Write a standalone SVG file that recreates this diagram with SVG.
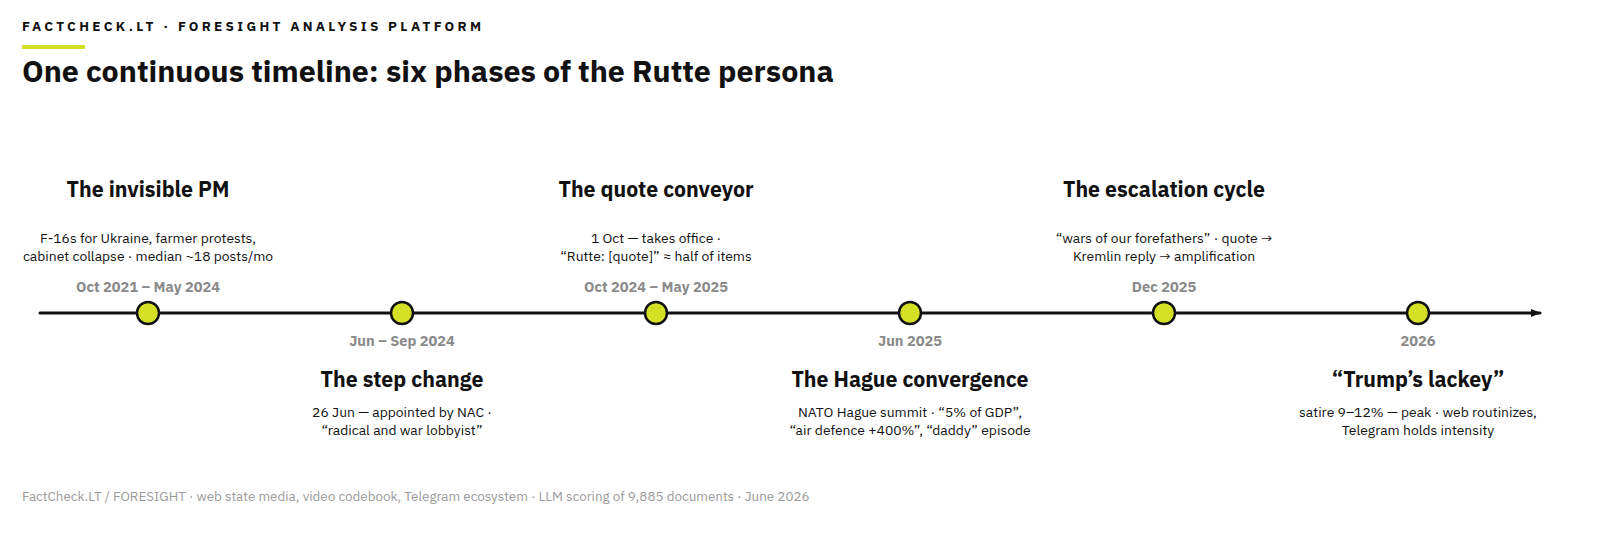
<svg xmlns="http://www.w3.org/2000/svg" width="1600" height="537" viewBox="0 0 1600 537">
<style>
text{font-family:"IBM Plex Sans",Roboto,"Liberation Sans",sans-serif;text-anchor:middle}
.t{font-size:21.3px;font-weight:700;fill:#111}
.b{font-size:13.9px;fill:#111}
.d{font-size:14.6px;font-weight:700;fill:#8a8a8a}
.n{fill:#d4e026;stroke:#111;stroke-width:2.5}
</style>
<defs><marker id="ah" markerWidth="10" markerHeight="8" refX="9" refY="4" orient="auto" markerUnits="userSpaceOnUse"><path d="M0,0 L10,4 L0,8 Z" fill="#111"/></marker></defs>
<rect width="1600" height="537" fill="#fff"/>
<text x="22" y="31" style="text-anchor:start;font-size:13.5px;font-weight:700;letter-spacing:3.3px;fill:#111">FACTCHECK.LT · FORESIGHT ANALYSIS PLATFORM</text>
<rect x="22" y="45" width="63" height="4" fill="#d4e026"/>
<text x="22" y="82" style="text-anchor:start;font-size:30.4px;font-weight:700;fill:#111">One continuous timeline: six phases of the Rutte persona</text>
<g id="connectors"><line x1="40" y1="313" x2="1540" y2="313" stroke="#111" stroke-width="3" stroke-linecap="round" marker-end="url(#ah)"/></g>
<g id="n1"><text class="t" x="148" y="197">The invisible PM</text><text class="b" x="148" y="243">F-16s for Ukraine, farmer protests,</text><text class="b" x="148" y="261">cabinet collapse · median ~18 posts/mo</text><text class="d" x="148" y="292">Oct 2021 – May 2024</text><circle class="n" cx="148" cy="313" r="11"/></g>
<g id="n2"><circle class="n" cx="402" cy="313" r="11"/><text class="d" x="402" y="346">Jun – Sep 2024</text><text class="t" x="402" y="387">The step change</text><text class="b" x="402" y="417">26 Jun — appointed by NAC ·</text><text class="b" x="402" y="435">“radical and war lobbyist”</text></g>
<g id="n3"><text class="t" x="656" y="197">The quote conveyor</text><text class="b" x="656" y="243">1 Oct — takes office ·</text><text class="b" x="656" y="261">“Rutte: [quote]” ≈ half of items</text><text class="d" x="656" y="292">Oct 2024 – May 2025</text><circle class="n" cx="656" cy="313" r="11"/></g>
<g id="n4"><circle class="n" cx="910" cy="313" r="11"/><text class="d" x="910" y="346">Jun 2025</text><text class="t" x="910" y="387">The Hague convergence</text><text class="b" x="910" y="417">NATO Hague summit · “5% of GDP”,</text><text class="b" x="910" y="435">“air defence +400%”, “daddy” episode</text></g>
<g id="n5"><text class="t" x="1164" y="197">The escalation cycle</text><text class="b" x="1164" y="243">“wars of our forefathers” · quote →</text><text class="b" x="1164" y="261">Kremlin reply → amplification</text><text class="d" x="1164" y="292">Dec 2025</text><circle class="n" cx="1164" cy="313" r="11"/></g>
<g id="n6"><circle class="n" cx="1418" cy="313" r="11"/><text class="d" x="1418" y="346">2026</text><text class="t" x="1418" y="387">“Trump’s lackey”</text><text class="b" x="1418" y="417">satire 9–12% — peak · web routinizes,</text><text class="b" x="1418" y="435">Telegram holds intensity</text></g>
<text x="22" y="501" style="text-anchor:start;font-size:13.4px;fill:#9a9a9a">FactCheck.LT / FORESIGHT · web state media, video codebook, Telegram ecosystem · LLM scoring of 9,885 documents · June 2026</text>
</svg>
